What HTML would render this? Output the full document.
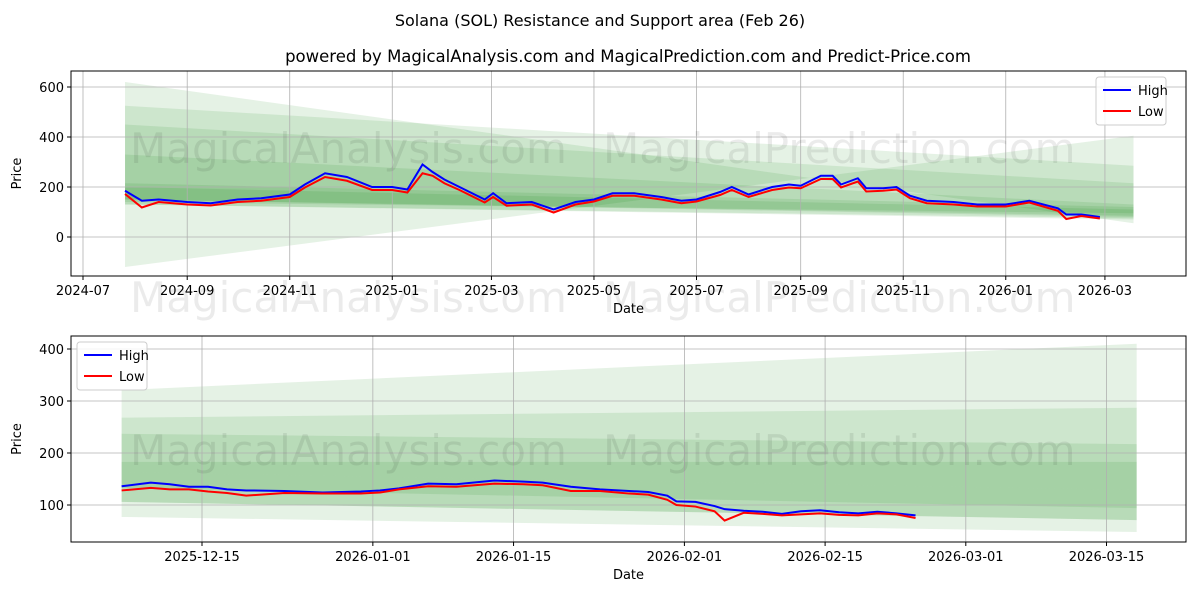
<!DOCTYPE html>
<html><head><meta charset="utf-8"><style>
body{margin:0;background:#fff;font-family:"Liberation Sans","DejaVu Sans",sans-serif}
svg text{font-family:"DejaVu Sans","Liberation Sans",sans-serif}
</style></head><body>
<svg id="c" width="1200" height="600" xmlns="http://www.w3.org/2000/svg">
<text x="600" y="26" font-size="16" text-anchor="middle">Solana (SOL) Resistance and Support area (Feb 26)</text>
<text x="628" y="62" font-size="16.5" text-anchor="middle">powered by MagicalAnalysis.com and MagicalPrediction.com and Predict-Price.com</text>
</svg>
<script>
// ---- top chart data (days since 2024-07-01) ----
const topDays=[25,35,45,62,76,92,106,123,132,144,157,172,184,193,202,208,215,224,239,244,252,267,280,293,304,315,328,344,356,365,379,386,396,410,420,427,439,446,451,461,466,476,484,492,502,518,532,549,563,580,585,594,605];
const topHigh=[185,145,150,140,135,150,155,170,210,255,240,200,200,190,290,260,230,200,150,175,135,140,110,140,150,175,175,160,145,150,180,200,170,200,210,205,245,245,210,235,195,195,200,165,145,140,130,130,145,115,90,90,80];
const topLow=[172,118,140,130,126,140,145,160,198,240,225,188,188,178,255,245,215,188,138,160,125,130,98,130,142,165,165,150,135,142,168,188,160,188,198,195,232,232,198,222,182,185,190,155,135,130,122,122,138,105,72,84,74];
// bands: [upperStart, upperEnd, lowerStart, lowerEnd]
const topBands=[[620,55,-120,405],[525,285,130,70],[450,215,130,75],[330,130,150,80],[215,120,140,95],[200,110,150,85]];
const topYTicks=[0,200,400,600];
const topXTickLabels=["2024-07","2024-09","2024-11","2025-01","2025-03","2025-05","2025-07","2025-09","2025-11","2026-01","2026-03"];
const topXTickDays=[0,62,123,184,243,304,365,427,488,549,608];
// ---- bottom chart data (days since 2025-12-01) ----
const botDays=[6,8.9,10.8,12.7,14.6,16.5,18.4,22.2,26,29.8,31.7,33.6,36.5,39.3,43.1,46,47.9,50.7,53.6,56.5,58.4,60.3,61.2,63.1,65,66,67.9,69.8,71.7,73.6,75.5,77.4,79.3,81.2,83.1,85];
const botHigh=[136,143,140,135,135,130,128,127,124,126,128,132,141,140,147,145,143,135,130,127,125,118,107,106,98,92,89,87,83,88,90,86,84,87,84,80];
const botLow=[128,133,130,130,126,123,118,123,122,122,124,130,136,135,141,140,138,127,127,122,120,110,100,97,88,70,85,83,80,82,84,81,80,84,82,75];
const botBands=[[321,410,77,48],[268,287,106,71],[237,217,133,94],[183,183,163,129],[163,129,133,94],[133,94,106,71]];
const botYTicks=[100,200,300,400];
const botXTickLabels=["2025-12-15","2026-01-01","2026-01-15","2026-02-01","2026-02-15","2026-03-01","2026-03-15"];
const botXTickDays=[14,31,45,62,76,90,104];

const svg=document.getElementById('c');const NS='http://www.w3.org/2000/svg';
function el(t,a,p){const e=document.createElementNS(NS,t);for(const k in a)e.setAttribute(k,a[k]);(p||svg).appendChild(e);return e;}
function panel(o){
  const X=d=>o.x0+(d-o.d0)*o.pxd, Y=v=>o.y0v-(v)*o.pxv;
  const g=el('g',{});
  
  
  o.bands.forEach((b,i)=>{
    const xa=X(o.bs),xb=X(o.be);
    const p=el('polygon',{points:`${xa},${Y(b[0])} ${xb},${Y(b[1])} ${xb},${Y(b[3])} ${xa},${Y(b[2])}`,fill:'#008000','fill-opacity':0.1},g);
    
    
  });
  o.yt.forEach(v=>{el('line',{x1:o.L,x2:o.R,y1:Y(v),y2:Y(v),stroke:'#b0b0b0','stroke-width':0.8},g);
    const t=el('text',{x:o.L-7,y:Y(v)+5,'font-size':13,'text-anchor':'end'},g);t.textContent=v;
    
    
    el('line',{x1:o.L-4,x2:o.L,y1:Y(v),y2:Y(v),stroke:'#000'},g);});
  o.xd.forEach((d,i)=>{el('line',{x1:X(d),x2:X(d),y1:o.T,y2:o.B,stroke:'#b0b0b0','stroke-width':0.8},g);
    el('line',{x1:X(d),x2:X(d),y1:o.B,y2:o.B+4,stroke:'#000'},g);
    const t=el('text',{x:X(d),y:o.B+19,'font-size':13,'text-anchor':'middle'},g);t.textContent=o.xl[i];
    
    });
  o.wm.forEach(w=>{const t=el('text',{x:w[0],y:w[1],'font-size':42,fill:'#000','fill-opacity':0.08},g);t.textContent=w[2];
    
    });
  const line=(vals,col,nm)=>{const l=el('polyline',{points:o.days.map((d,i)=>X(d)+','+Y(vals[i])).join(' '),fill:'none',stroke:col,'stroke-width':2},g);
    
    };
  line(o.high,'#0000ff','high-line');line(o.low,'#ff0000','low-line');
  el('rect',{x:o.L,y:o.T,width:o.R-o.L,height:o.B-o.T,fill:'none',stroke:'#000','stroke-width':1},g);
  const yl=el('text',{x:0,y:0,'font-size':13,'text-anchor':'middle',transform:`translate(${o.L-50} ${(o.T+o.B)/2}) rotate(-90)`},g);yl.textContent='Price';
  
  
  const xl=el('text',{x:(o.L+o.R)/2,y:o.B+37,'font-size':13,'text-anchor':'middle'},g);xl.textContent='Date';
  
  
  const lg=el('g',{},g);
  
  
  el('rect',{x:o.lx,y:o.ly,width:70,height:48,rx:3,fill:'#fff','fill-opacity':0.85,stroke:'#ccc'},lg);
  [['High','#0000ff'],['Low','#ff0000']].forEach((e,i)=>{
    el('line',{x1:o.lx+7,x2:o.lx+35,y1:o.ly+13+i*21,y2:o.ly+13+i*21,stroke:e[1],'stroke-width':2},lg);
    const t=el('text',{x:o.lx+42,y:o.ly+18+i*21,'font-size':13},lg);t.textContent=e[0];
    
    });
}
panel({name:'top-panel',L:71,R:1186,T:71,B:276,x0:83,d0:0,pxd:1.6808,y0v:237,pxv:0.25,bs:25,be:625,bands:topBands,
 yt:topYTicks,xd:topXTickDays,xl:topXTickLabels,days:topDays,high:topHigh,low:topLow,
 wm:[[130,163,'MagicalAnalysis.com'],[603,163,'MagicalPrediction.com'],[130,312,'MagicalAnalysis.com'],[603,312,'MagicalPrediction.com']],lx:1096,ly:77});
panel({name:'bottom-panel',L:71,R:1186,T:336,B:542,x0:202,d0:14,pxd:10.05,y0v:557,pxv:0.52,bs:6,be:107,bands:botBands,
 yt:botYTicks,xd:botXTickDays,xl:botXTickLabels,days:botDays,high:botHigh,low:botLow,
 wm:[[130,465,'MagicalAnalysis.com'],[603,465,'MagicalPrediction.com']],lx:77,ly:342});
</script>
</body></html>
